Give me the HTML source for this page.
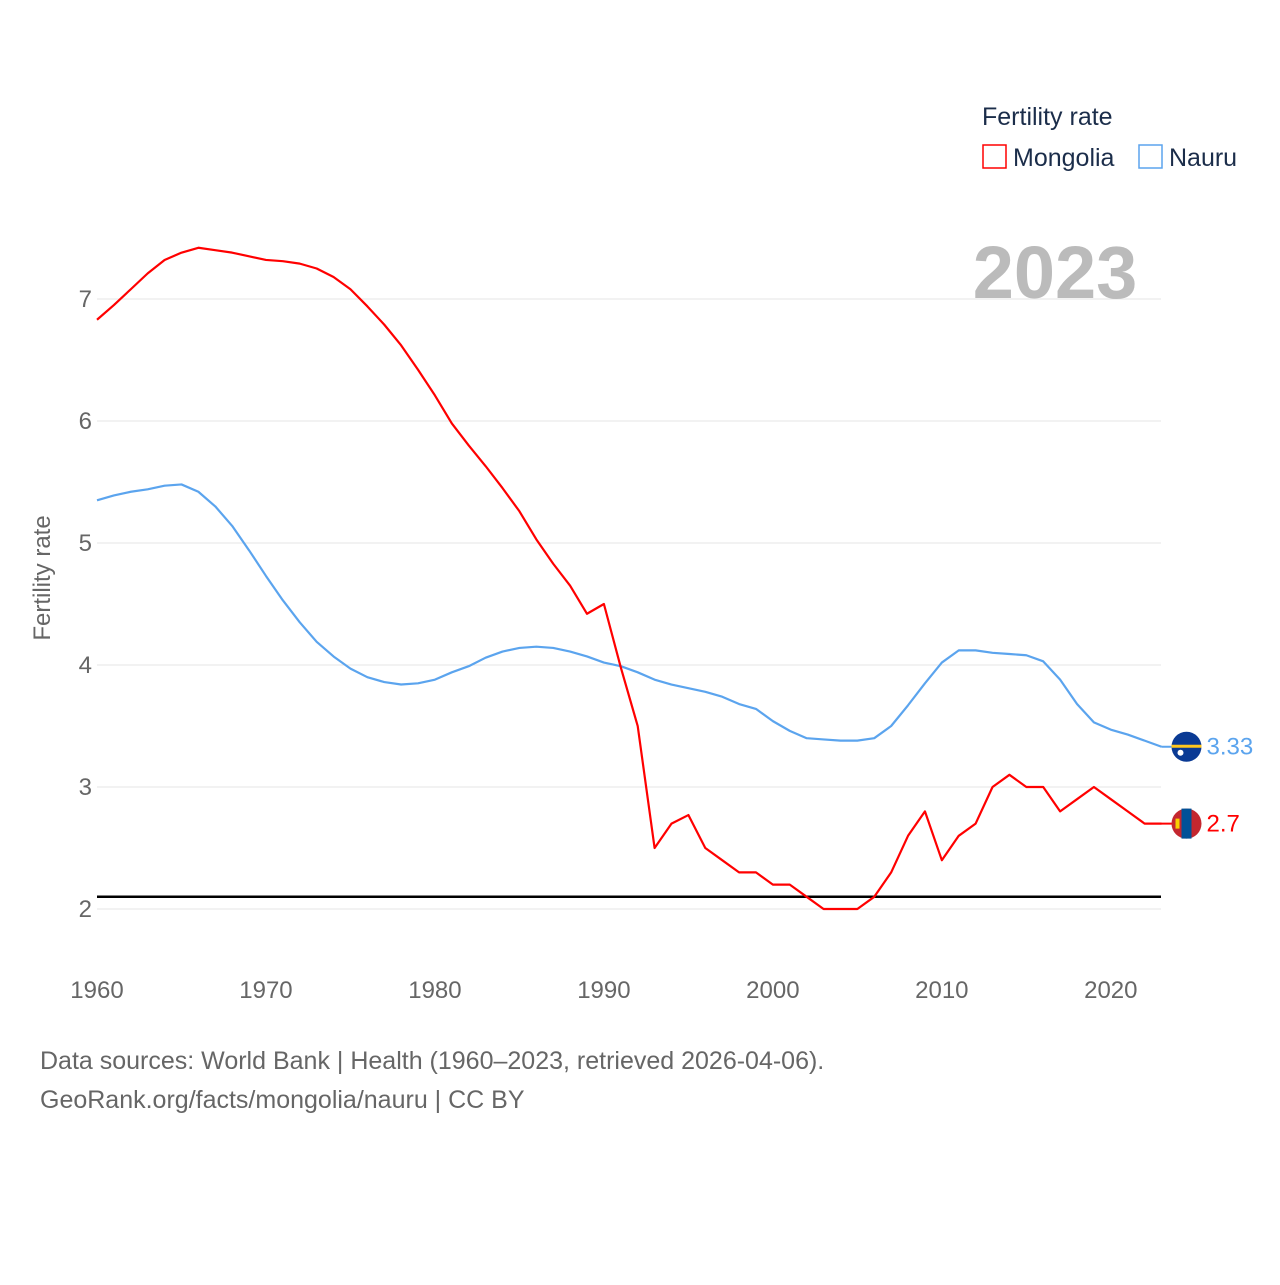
<!DOCTYPE html>
<html><head><meta charset="utf-8"><style>
body{margin:0;background:#fff;font-family:"Liberation Sans",sans-serif}
svg text{font-family:"Liberation Sans",sans-serif}
</style></head><body>
<svg width="1280" height="1280" viewBox="0 0 1280 1280">
<g id="grid"></g>
<text x="1055" y="298" text-anchor="middle" font-size="74" font-weight="bold" fill="#bbbbbb">2023</text>
<text transform="translate(50,578) rotate(-90)" text-anchor="middle" font-size="24" fill="#666">Fertility rate</text>
<g id="marks"></g>
<g>
<text x="982" y="125" font-size="25" fill="#1b2d4a">Fertility rate</text>
<g><rect x="983" y="145" width="23" height="23" fill="none" stroke="#ff0000" stroke-width="1.5"/><text x="1013" y="166" font-size="25" fill="#1b2d4a">Mongolia</text></g>
<g><rect x="1139" y="145" width="23" height="23" fill="none" stroke="#5ba4ee" stroke-width="1.5"/><text x="1169" y="166" font-size="25" fill="#1b2d4a">Nauru</text></g>
</g>
<text x="40" y="1069" font-size="25" fill="#666">Data sources: World Bank | Health (1960–2023, retrieved 2026-04-06).</text>
<text x="40" y="1108" font-size="25" fill="#666">GeoRank.org/facts/mongolia/nauru | CC BY</text>
</svg>
<script>
const years=[];for(let y=1960;y<=2023;y++)years.push(y);
const mongolia=[6.83,6.95,7.08,7.21,7.32,7.38,7.42,7.40,7.38,7.35,7.32,7.31,7.29,7.25,7.18,7.08,6.94,6.79,6.62,6.42,6.21,5.98,5.80,5.63,5.45,5.26,5.03,4.83,4.65,4.42,4.50,3.98,3.50,2.50,2.70,2.77,2.50,2.40,2.30,2.30,2.20,2.20,2.10,2.00,2.00,2.00,2.10,2.30,2.60,2.80,2.40,2.60,2.70,3.00,3.10,3.00,3.00,2.80,2.90,3.00,2.90,2.80,2.70,2.70];
const nauru=[5.35,5.39,5.42,5.44,5.47,5.48,5.42,5.30,5.14,4.94,4.73,4.53,4.35,4.19,4.07,3.97,3.90,3.86,3.84,3.85,3.88,3.94,3.99,4.06,4.11,4.14,4.15,4.14,4.11,4.07,4.02,3.99,3.94,3.88,3.84,3.81,3.78,3.74,3.68,3.64,3.54,3.46,3.40,3.39,3.38,3.38,3.40,3.50,3.67,3.85,4.02,4.12,4.12,4.10,4.09,4.08,4.03,3.88,3.68,3.53,3.47,3.43,3.38,3.33];
const yTicks=[2,3,4,5,6,7];
const xTicks=[1960,1970,1980,1990,2000,2010,2020];
const refValue=2.1;
const X=y=>97+(y-1960)*(1161.5-97)/63;
const Y=v=>909-(v-2)*122;
const NS="http://www.w3.org/2000/svg";
function mk(t,a,p){const e=document.createElementNS(NS,t);for(const k in a)e.setAttribute(k,a[k]);p.appendChild(e);return e;}
const grid=document.getElementById('grid'),marks=document.getElementById('marks');
yTicks.forEach(v=>{
 const l=mk('line',{x1:97,x2:1161,y1:Y(v),y2:Y(v),stroke:'#e6e6e6','stroke-width':1},grid);
 
 
 const t=mk('text',{x:92,y:Y(v)+8,'text-anchor':'end','font-size':24,fill:'#666'},grid);t.textContent=v;
 
 
});
xTicks.forEach(v=>{
 const t=mk('text',{x:X(v),y:998,'text-anchor':'middle','font-size':24,fill:'#666'},grid);t.textContent=v;
 
 
});
const ref=mk('line',{x1:97,x2:1161,y1:Y(refValue),y2:Y(refValue),stroke:'#000','stroke-width':2.5},marks);


function series(d,c,name){
 const p=mk('polyline',{points:d.map((v,i)=>X(years[i])+','+Y(v)).join(' '),fill:'none',stroke:c,'stroke-width':2.2,'stroke-linejoin':'round'},marks);
 
 
}
series(nauru,'#5ba4ee','nauru');
series(mongolia,'#ff0000','mongolia');
function endLabel(d,c,name,flag){
 const last=d[d.length-1],cx=X(2023)+25,cy=Y(last);
 mk('line',{x1:X(2023),x2:cx,y1:cy,y2:cy,stroke:c,'stroke-width':2},marks);
 const g=mk('g',{},marks);
 
 
 flag(g,cx,cy);
 const t=mk('text',{x:cx+20,y:cy+8,'font-size':24,fill:c},marks);t.textContent=String(last);
 
 
}
endLabel(nauru,'#5ba4ee','nauru',(g,cx,cy)=>{
 mk('circle',{cx,cy,r:15,fill:'#0a3a94'},g);
 mk('rect',{x:cx-15,y:cy-2,width:30,height:3,fill:'#ffc61e'},g);
 mk('circle',{cx:cx-6,cy:cy+6,r:3,fill:'#fff'},g);
});
endLabel(mongolia,'#ff0000','mongolia',(g,cx,cy)=>{
 mk('circle',{cx,cy,r:15,fill:'#c4272f'},g);
 mk('rect',{x:cx-5,y:cy-15,width:10,height:30,fill:'#015197'},g);
 mk('rect',{x:cx-11,y:cy-5,width:4,height:10,fill:'#f9cf02'},g);
});
</script>
</body></html>
